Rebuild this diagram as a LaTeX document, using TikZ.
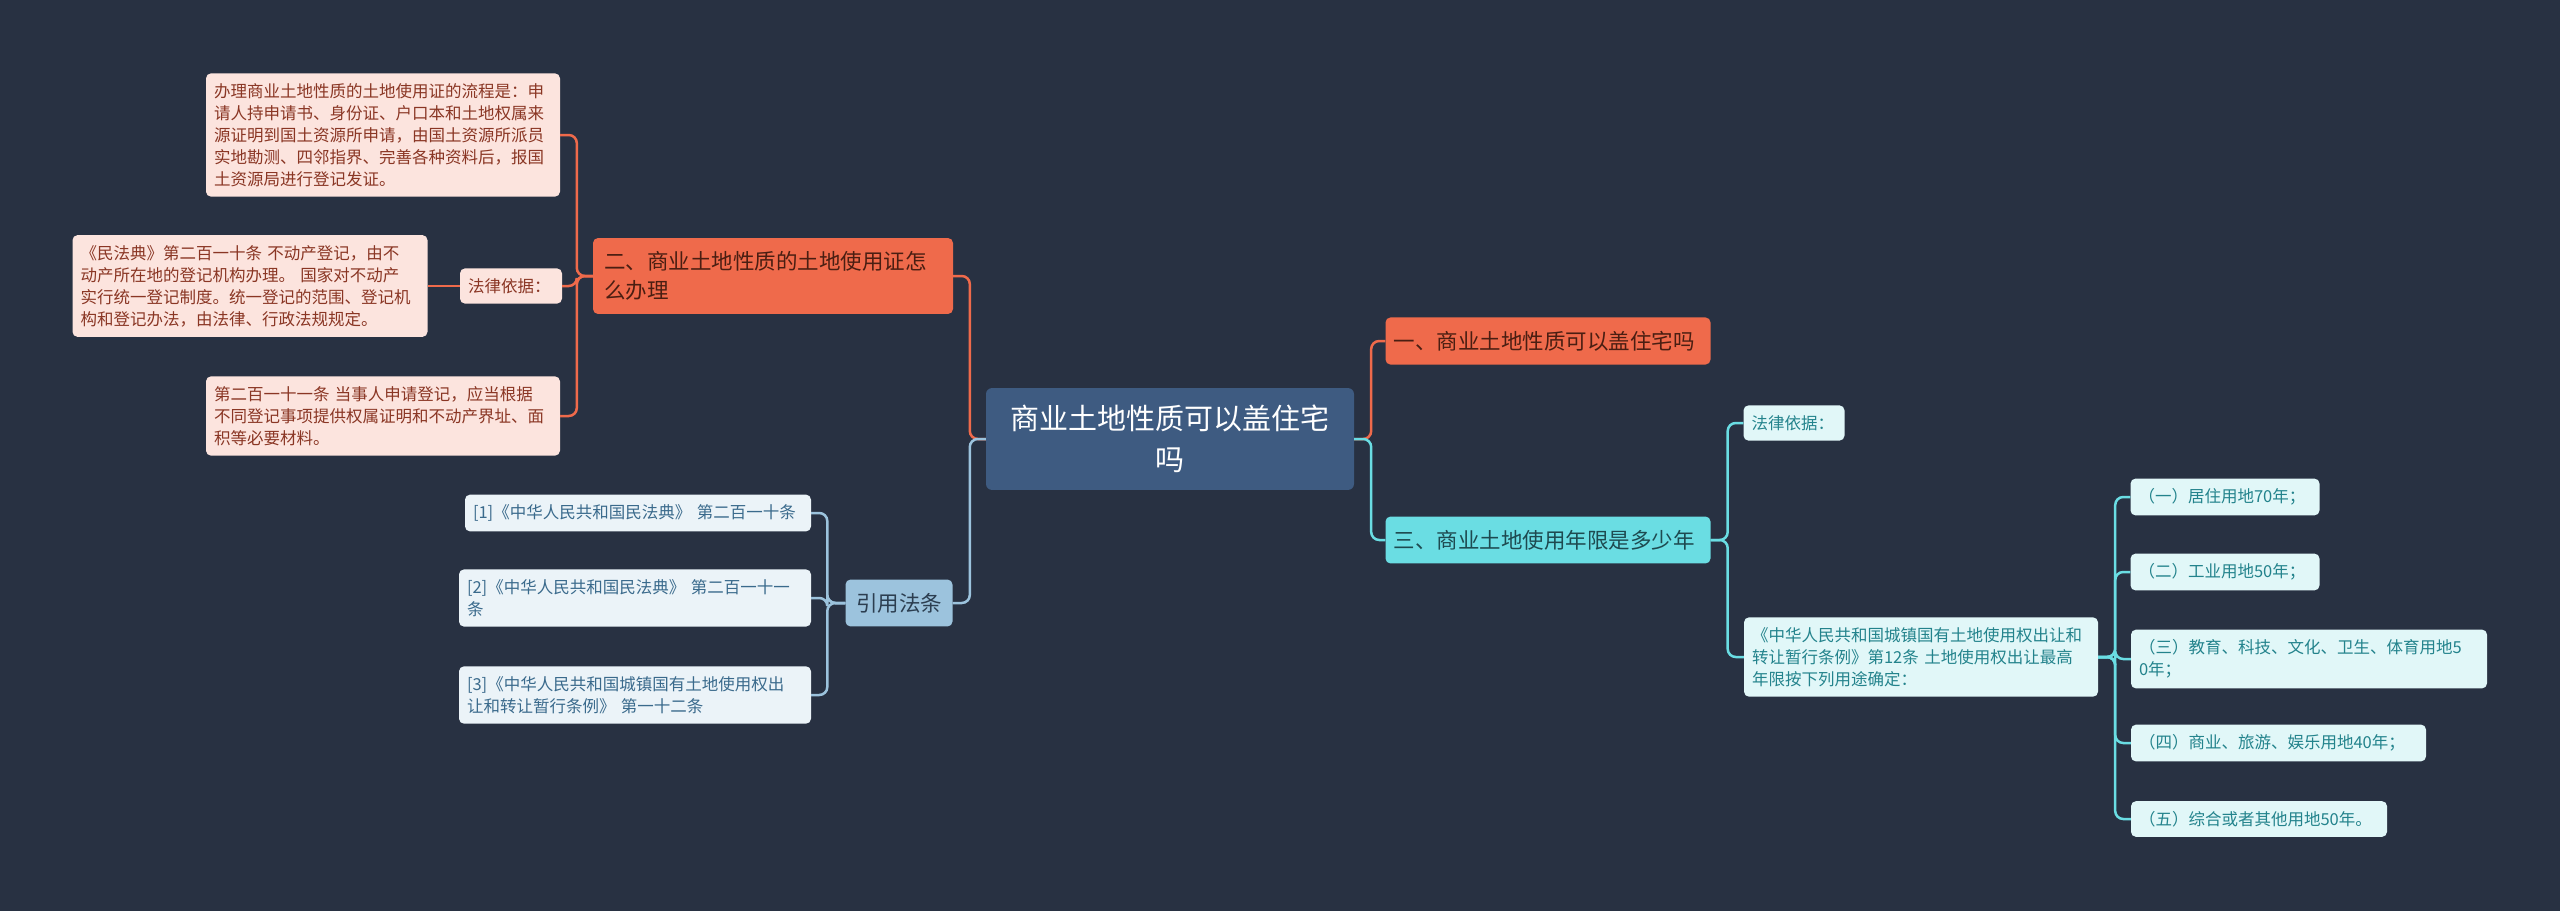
\documentclass[tikz,border=0pt]{standalone}
\usepackage{fontspec}
\setmainfont{Noto Sans CJK SC}
\usepackage{xcolor}
\usepackage{tikz}

\definecolor{bgnavy}{HTML}{283142}
\definecolor{rootblue}{HTML}{3E5B81}
\definecolor{orangeA}{HTML}{EF6A4B}
\definecolor{orangeT}{HTML}{4A1E12}
\definecolor{pinkF}{HTML}{FCE4DE}
\definecolor{pinkT}{HTML}{8A3624}
\definecolor{cyanA}{HTML}{6ADDE3}
\definecolor{cyanT}{HTML}{1E4A50}
\definecolor{cyanF}{HTML}{E1F7F8}
\definecolor{cyanL}{HTML}{23838C}
\definecolor{blueA}{HTML}{9CC3DD}
\definecolor{blueT}{HTML}{2C3E50}
\definecolor{blueF}{HTML}{EBF3F8}
\definecolor{blueL}{HTML}{3A6A8C}

\tikzset{
  rootbox/.style={fill=rootblue,text=white,rounded corners=6pt,inner xsep=15pt,inner ysep=17pt,
    text width=338pt,align=center,font=\fontsize{29}{41}\selectfont},
  topicbox/.style={rounded corners=5pt,inner xsep=8pt,inner ysep=13.5pt,align=left,
    text width=#1,font=\fontsize{21.5}{29}\selectfont},
  leafbox/.style={rounded corners=5pt,inner xsep=8pt,inner ysep=10pt,align=left,
    text width=#1,font=\fontsize{16.5}{22}\selectfont},
  pinkleaf/.style={leafbox=#1,fill=pinkF,text=pinkT},
  cyanleaf/.style={leafbox=#1,fill=cyanF,text=cyanL},
  blueleaf/.style={leafbox=#1,fill=blueF,text=blueL},
  link/.style={line width=2.5pt,rounded corners=8pt},
}

\begin{document}
\begin{tikzpicture}[x=1pt,y=-1pt]
  \fill[bgnavy] (0,0) rectangle (2560,911);
  \useasboundingbox (0,0) rectangle (2560,911);

  \node[rootbox] (root) at (1170,439) {商业土地性质可以盖住宅\\吗};

  \node[topicbox=309pt,fill=orangeA,text=orangeT] (one) at (1548,341) {一、商业土地性质可以盖住宅吗};
  \node[topicbox=309pt,fill=cyanA,text=cyanT] (three) at (1548,540) {三、商业土地使用年限是多少年};
  \node[topicbox=338pt,inner xsep=11pt,fill=orangeA,text=orangeT] (two) at (773,276) {二、商业土地性质的土地使用证怎\\么办理};
  \node[topicbox=91pt,align=center,fill=blueA,text=blueT] (cite) at (899,603) {引用法条};

  \node[pinkleaf=338pt] (proc) at (383,135) {办理商业土地性质的土地使用证的流程是：申\\请人持申请书、身份证、户口本和土地权属来\\源证明到国土资源所申请，由国土资源所派员\\实地勘测、四邻指界、完善各种资料后，报国\\土资源局进行登记发证。};
  \node[pinkleaf=86pt] (lawL) at (511,286) {法律依据：};
  \node[pinkleaf=339pt] (civil) at (250,286) {《民法典》第二百一十条 不动产登记，由不\\动产所在地的登记机构办理。 国家对不动产\\实行统一登记制度。统一登记的范围、登记机\\构和登记办法，由法律、行政法规规定。};
  \node[pinkleaf=338pt] (apply) at (383,416) {第二百一十一条 当事人申请登记，应当根据\\不同登记事项提供权属证明和不动产界址、面\\积等必要材料。};

  \node[blueleaf=330pt] (refA) at (638,513) {[1]《中华人民共和国民法典》 第二百一十条};
  \node[blueleaf=336pt] (refB) at (635,598) {[2]《中华人民共和国民法典》 第二百一十一\\条};
  \node[blueleaf=336pt] (refC) at (635,695) {[3]《中华人民共和国城镇国有土地使用权出\\让和转让暂行条例》 第一十二条};

  \node[cyanleaf=85pt] (lawR) at (1794,423) {法律依据：};
  \node[cyanleaf=338pt] (regl) at (1921,657) {《中华人民共和国城镇国有土地使用权出让和\\转让暂行条例》第12条 土地使用权出让最高\\年限按下列用途确定：};
  \node[cyanleaf=173pt] (useA) at (2225,497) {（一）居住用地70年；};
  \node[cyanleaf=173pt] (useB) at (2225,572) {（二）工业用地50年；};
  \node[cyanleaf=340pt] (useC) at (2309,659) {（三）教育、科技、文化、卫生、体育用地5\\0年；};
  \node[cyanleaf=279pt] (useD) at (2278.5,743) {（四）商业、旅游、娱乐用地40年；};
  \node[cyanleaf=240pt] (useE) at (2259,819) {（五）综合或者其他用地50年。};

  \draw[link,orangeA] (root.east) -- ++(17,0) |- (one.west);
  \draw[link,cyanA] (root.east) -- ++(17,0) |- (three.west);
  \draw[link,orangeA] (root.west) -- ++(-16,0) |- (two.east);
  \draw[link,blueA] (root.west) -- ++(-16,0) |- (cite.east);

  \draw[link,orangeA] (two.west) -- ++(-16,0) |- (proc.east);
  \draw[link,orangeA] (two.west) -- ++(-16,0) |- (lawL.east);
  \draw[link,orangeA] (two.west) -- ++(-16,0) |- (apply.east);
  \draw[link,orangeA] (lawL.west) -- (civil.east);

  \draw[link,blueA] (cite.west) -- ++(-18,0) |- (refA.east);
  \draw[link,blueA] (cite.west) -- ++(-18,0) |- (refB.east);
  \draw[link,blueA] (cite.west) -- ++(-18,0) |- (refC.east);

  \draw[link,cyanA] (three.east) -- ++(17,0) |- (lawR.west);
  \draw[link,cyanA] (three.east) -- ++(17,0) |- (regl.west);
  \draw[link,cyanA] (regl.east) -- ++(17,0) |- (useA.west);
  \draw[link,cyanA] (regl.east) -- ++(17,0) |- (useB.west);
  \draw[link,cyanA] (regl.east) -- ++(17,0) |- (useC.west);
  \draw[link,cyanA] (regl.east) -- ++(17,0) |- (useD.west);
  \draw[link,cyanA] (regl.east) -- ++(17,0) |- (useE.west);
\end{tikzpicture}
\end{document}
